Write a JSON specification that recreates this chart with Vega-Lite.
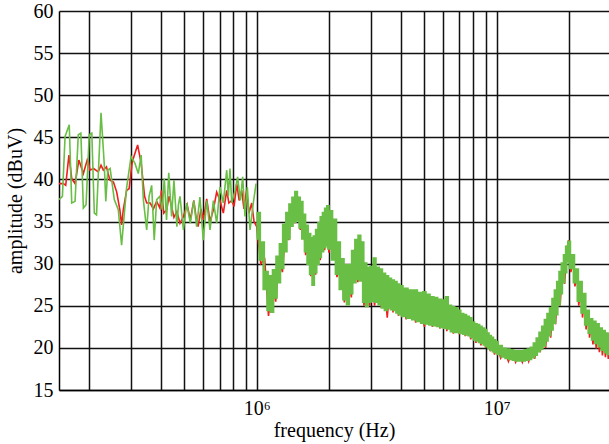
{
  "$schema": "https://vega.github.io/schema/vega-lite/v6.json",
  "autosize": {"type": "none"},
  "padding": {"left": 59, "top": 11, "right": 0, "bottom": 54},
  "width": 550,
  "height": 379,
  "background": "white",
  "config": {
    "view": {"stroke": null},
    "font": "Liberation Serif",
    "axis": {
      "labelFont": "Liberation Serif",
      "titleFont": "Liberation Serif",
      "labelFontSize": 20,
      "titleFontSize": 20,
      "labelColor": "#000",
      "titleColor": "#000",
      "titleFontWeight": "normal",
      "grid": true,
      "gridColor": "#111",
      "gridWidth": 1.5,
      "gridOpacity": 1,
      "ticks": false,
      "domainColor": "#000",
      "domainWidth": 1.5
    }
  },
  "datasets": {
    "red": [
      {"freq": 150000, "dBuV": 39.5}, {"freq": 156500, "dBuV": 39.5}, {"freq": 160000, "dBuV": 39.3},
      {"freq": 165000, "dBuV": 42.9}, {"freq": 169500, "dBuV": 40.1}, {"freq": 175000, "dBuV": 39.5},
      {"freq": 181500, "dBuV": 42.3}, {"freq": 189500, "dBuV": 40.7}, {"freq": 197500, "dBuV": 42.5},
      {"freq": 202000, "dBuV": 41.1}, {"freq": 209000, "dBuV": 41.3}, {"freq": 218500, "dBuV": 40.9},
      {"freq": 224500, "dBuV": 41.7}, {"freq": 229500, "dBuV": 41.1}, {"freq": 236500, "dBuV": 41.5},
      {"freq": 244500, "dBuV": 39.9}, {"freq": 253000, "dBuV": 39.7}, {"freq": 261000, "dBuV": 38.5},
      {"freq": 269000, "dBuV": 36.4}, {"freq": 273500, "dBuV": 34.6}, {"freq": 278000, "dBuV": 36.4},
      {"freq": 287000, "dBuV": 38.7}, {"freq": 294000, "dBuV": 38.9}, {"freq": 303000, "dBuV": 42.1},
      {"freq": 319000, "dBuV": 44.1}, {"freq": 330000, "dBuV": 41.9}, {"freq": 341000, "dBuV": 38.0},
      {"freq": 348000, "dBuV": 37.2}, {"freq": 360000, "dBuV": 37.2}, {"freq": 371000, "dBuV": 36.5},
      {"freq": 383000, "dBuV": 37.4}, {"freq": 395000, "dBuV": 36.6}, {"freq": 401000, "dBuV": 38.7},
      {"freq": 410000, "dBuV": 36.0}, {"freq": 422000, "dBuV": 36.4}, {"freq": 431000, "dBuV": 38.0},
      {"freq": 442000, "dBuV": 36.8}, {"freq": 452000, "dBuV": 35.5}, {"freq": 465000, "dBuV": 36.2},
      {"freq": 479000, "dBuV": 34.8}, {"freq": 495000, "dBuV": 35.6}, {"freq": 513000, "dBuV": 37.0},
      {"freq": 529000, "dBuV": 35.2}, {"freq": 547000, "dBuV": 37.5}, {"freq": 559000, "dBuV": 35.5},
      {"freq": 570000, "dBuV": 34.4}, {"freq": 586000, "dBuV": 36.5}, {"freq": 599000, "dBuV": 35.2},
      {"freq": 619000, "dBuV": 37.7}, {"freq": 639000, "dBuV": 35.0}, {"freq": 660000, "dBuV": 36.4},
      {"freq": 681000, "dBuV": 38.5}, {"freq": 703000, "dBuV": 37.5}, {"freq": 726000, "dBuV": 36.0},
      {"freq": 750000, "dBuV": 38.7}, {"freq": 766000, "dBuV": 37.2}, {"freq": 787000, "dBuV": 37.5},
      {"freq": 805000, "dBuV": 36.8}, {"freq": 826000, "dBuV": 39.5}, {"freq": 845000, "dBuV": 37.5},
      {"freq": 866000, "dBuV": 38.7}, {"freq": 885000, "dBuV": 36.5}, {"freq": 908000, "dBuV": 38.7},
      {"freq": 929000, "dBuV": 36.0}, {"freq": 953000, "dBuV": 37.2}, {"freq": 975000, "dBuV": 35.0},
      {"freq": 1000000, "dBuV": 34.4}, {"freq": 1040000, "dBuV": 30.0}, {"freq": 1080000, "dBuV": 30.5},
      {"freq": 1120000, "dBuV": 23.8}, {"freq": 1160000, "dBuV": 27.5}, {"freq": 1200000, "dBuV": 25.5},
      {"freq": 1240000, "dBuV": 30.5}, {"freq": 1280000, "dBuV": 29.0}, {"freq": 1320000, "dBuV": 34.0},
      {"freq": 1360000, "dBuV": 32.8}, {"freq": 1400000, "dBuV": 37.0}, {"freq": 1440000, "dBuV": 34.8},
      {"freq": 1480000, "dBuV": 38.0}, {"freq": 1520000, "dBuV": 34.0}, {"freq": 1560000, "dBuV": 35.8},
      {"freq": 1600000, "dBuV": 31.0}, {"freq": 1640000, "dBuV": 33.2}, {"freq": 1680000, "dBuV": 28.5},
      {"freq": 1720000, "dBuV": 32.5}, {"freq": 1760000, "dBuV": 28.7}, {"freq": 1800000, "dBuV": 33.6},
      {"freq": 1840000, "dBuV": 30.4}, {"freq": 1880000, "dBuV": 35.3}, {"freq": 1920000, "dBuV": 31.6},
      {"freq": 1960000, "dBuV": 36.3}, {"freq": 2000000, "dBuV": 31.3}, {"freq": 2080000, "dBuV": 35.0},
      {"freq": 2160000, "dBuV": 28.4}, {"freq": 2240000, "dBuV": 30.0}, {"freq": 2320000, "dBuV": 25.4},
      {"freq": 2400000, "dBuV": 29.3}, {"freq": 2480000, "dBuV": 26.0}, {"freq": 2560000, "dBuV": 31.7},
      {"freq": 2640000, "dBuV": 27.8}, {"freq": 2720000, "dBuV": 32.7}, {"freq": 2800000, "dBuV": 25.0},
      {"freq": 2880000, "dBuV": 29.2}, {"freq": 2960000, "dBuV": 25.0}, {"freq": 3000000, "dBuV": 29.0},
      {"freq": 3100000, "dBuV": 25.0}, {"freq": 3200000, "dBuV": 29.0}, {"freq": 3300000, "dBuV": 24.8},
      {"freq": 3400000, "dBuV": 28.4}, {"freq": 3500000, "dBuV": 23.6}, {"freq": 3600000, "dBuV": 27.8},
      {"freq": 3700000, "dBuV": 24.2}, {"freq": 3800000, "dBuV": 27.4}, {"freq": 3900000, "dBuV": 23.8},
      {"freq": 4000000, "dBuV": 27.0}, {"freq": 4200000, "dBuV": 23.4}, {"freq": 4400000, "dBuV": 26.5},
      {"freq": 4600000, "dBuV": 23.0}, {"freq": 4800000, "dBuV": 26.2}, {"freq": 5000000, "dBuV": 22.5},
      {"freq": 5200000, "dBuV": 26.0}, {"freq": 5400000, "dBuV": 22.5}, {"freq": 5600000, "dBuV": 25.6},
      {"freq": 5800000, "dBuV": 22.3}, {"freq": 6000000, "dBuV": 25.3}, {"freq": 6200000, "dBuV": 22.0},
      {"freq": 6400000, "dBuV": 24.8}, {"freq": 6600000, "dBuV": 21.7}, {"freq": 6800000, "dBuV": 24.4},
      {"freq": 7000000, "dBuV": 21.6}, {"freq": 7200000, "dBuV": 23.8}, {"freq": 7400000, "dBuV": 21.4},
      {"freq": 7600000, "dBuV": 23.4}, {"freq": 7800000, "dBuV": 21.0}, {"freq": 8000000, "dBuV": 22.8},
      {"freq": 8200000, "dBuV": 20.6}, {"freq": 8400000, "dBuV": 22.4}, {"freq": 8600000, "dBuV": 20.3},
      {"freq": 8800000, "dBuV": 22.0}, {"freq": 9000000, "dBuV": 20.0}, {"freq": 9200000, "dBuV": 21.5},
      {"freq": 9400000, "dBuV": 19.6}, {"freq": 9600000, "dBuV": 21.0}, {"freq": 9800000, "dBuV": 19.2},
      {"freq": 10000000, "dBuV": 20.5}, {"freq": 10400000, "dBuV": 18.8}, {"freq": 10800000, "dBuV": 19.7},
      {"freq": 11200000, "dBuV": 18.4}, {"freq": 11600000, "dBuV": 19.5}, {"freq": 12000000, "dBuV": 18.3},
      {"freq": 12400000, "dBuV": 19.4}, {"freq": 12800000, "dBuV": 18.3}, {"freq": 13200000, "dBuV": 19.5},
      {"freq": 13600000, "dBuV": 18.4}, {"freq": 14000000, "dBuV": 19.8}, {"freq": 14400000, "dBuV": 18.7},
      {"freq": 14800000, "dBuV": 20.8}, {"freq": 15200000, "dBuV": 19.5}, {"freq": 15600000, "dBuV": 22.2},
      {"freq": 16000000, "dBuV": 20.0}, {"freq": 16400000, "dBuV": 23.8}, {"freq": 16800000, "dBuV": 21.2},
      {"freq": 17200000, "dBuV": 25.5}, {"freq": 17600000, "dBuV": 22.8}, {"freq": 18000000, "dBuV": 27.5},
      {"freq": 18400000, "dBuV": 25.0}, {"freq": 18800000, "dBuV": 29.8}, {"freq": 19200000, "dBuV": 27.6},
      {"freq": 19600000, "dBuV": 31.8}, {"freq": 20000000, "dBuV": 32.8}, {"freq": 20400000, "dBuV": 29.0},
      {"freq": 20800000, "dBuV": 30.6}, {"freq": 21200000, "dBuV": 27.3}, {"freq": 21600000, "dBuV": 28.8},
      {"freq": 22000000, "dBuV": 25.0}, {"freq": 22400000, "dBuV": 27.2}, {"freq": 22800000, "dBuV": 23.6},
      {"freq": 23200000, "dBuV": 25.8}, {"freq": 23600000, "dBuV": 22.2}, {"freq": 24000000, "dBuV": 24.0},
      {"freq": 24400000, "dBuV": 21.2}, {"freq": 24800000, "dBuV": 23.0}, {"freq": 25200000, "dBuV": 20.4},
      {"freq": 25600000, "dBuV": 22.6}, {"freq": 26000000, "dBuV": 19.9}, {"freq": 26400000, "dBuV": 22.3},
      {"freq": 26800000, "dBuV": 19.5}, {"freq": 27200000, "dBuV": 21.8}, {"freq": 27600000, "dBuV": 19.1},
      {"freq": 28000000, "dBuV": 21.5}, {"freq": 28400000, "dBuV": 18.9}, {"freq": 28800000, "dBuV": 21.2},
      {"freq": 29200000, "dBuV": 18.7}, {"freq": 29600000, "dBuV": 21.0}, {"freq": 30000000, "dBuV": 18.6}
    ],
    "greenLow": [
      {"freq": 150000, "dBuV": 37.6}, {"freq": 155000, "dBuV": 38.0}, {"freq": 159000, "dBuV": 45.1},
      {"freq": 165500, "dBuV": 46.5}, {"freq": 169500, "dBuV": 37.2}, {"freq": 175000, "dBuV": 37.4},
      {"freq": 180500, "dBuV": 45.3}, {"freq": 185000, "dBuV": 45.5}, {"freq": 189500, "dBuV": 36.6},
      {"freq": 194500, "dBuV": 37.0}, {"freq": 200500, "dBuV": 45.3}, {"freq": 205500, "dBuV": 45.5},
      {"freq": 210500, "dBuV": 36.0}, {"freq": 215000, "dBuV": 35.8}, {"freq": 224500, "dBuV": 47.9},
      {"freq": 231500, "dBuV": 41.9}, {"freq": 235000, "dBuV": 37.4}, {"freq": 239500, "dBuV": 41.1},
      {"freq": 245000, "dBuV": 41.3}, {"freq": 255000, "dBuV": 37.6}, {"freq": 265000, "dBuV": 36.4},
      {"freq": 273500, "dBuV": 32.2}, {"freq": 282500, "dBuV": 36.8}, {"freq": 287000, "dBuV": 39.0},
      {"freq": 299500, "dBuV": 42.7}, {"freq": 311000, "dBuV": 41.9}, {"freq": 321000, "dBuV": 40.7},
      {"freq": 330000, "dBuV": 42.9}, {"freq": 337000, "dBuV": 37.6}, {"freq": 348000, "dBuV": 34.0},
      {"freq": 356000, "dBuV": 38.0}, {"freq": 365000, "dBuV": 39.3}, {"freq": 374000, "dBuV": 32.8},
      {"freq": 383000, "dBuV": 37.6}, {"freq": 395000, "dBuV": 38.0}, {"freq": 404000, "dBuV": 36.4},
      {"freq": 412000, "dBuV": 40.1}, {"freq": 421000, "dBuV": 35.2}, {"freq": 430000, "dBuV": 40.8},
      {"freq": 442000, "dBuV": 35.6}, {"freq": 452000, "dBuV": 39.9}, {"freq": 465000, "dBuV": 34.4},
      {"freq": 472000, "dBuV": 37.0}, {"freq": 479000, "dBuV": 38.0}, {"freq": 495000, "dBuV": 34.0},
      {"freq": 511000, "dBuV": 37.2}, {"freq": 529000, "dBuV": 34.8}, {"freq": 547000, "dBuV": 37.5},
      {"freq": 562000, "dBuV": 34.4}, {"freq": 580000, "dBuV": 37.9}, {"freq": 599000, "dBuV": 32.8},
      {"freq": 619000, "dBuV": 37.5}, {"freq": 639000, "dBuV": 34.0}, {"freq": 660000, "dBuV": 37.5},
      {"freq": 681000, "dBuV": 34.8}, {"freq": 703000, "dBuV": 39.1}, {"freq": 726000, "dBuV": 37.2},
      {"freq": 750000, "dBuV": 41.1}, {"freq": 762000, "dBuV": 38.0}, {"freq": 774000, "dBuV": 41.3},
      {"freq": 787000, "dBuV": 37.2}, {"freq": 813000, "dBuV": 38.7}, {"freq": 833000, "dBuV": 40.3},
      {"freq": 855000, "dBuV": 37.5}, {"freq": 874000, "dBuV": 40.3}, {"freq": 894000, "dBuV": 35.6},
      {"freq": 914000, "dBuV": 39.1}, {"freq": 938000, "dBuV": 34.0}, {"freq": 968000, "dBuV": 37.2},
      {"freq": 994000, "dBuV": 39.5}
    ],
    "greenHigh": [
      {"freq": 1000000, "dBuV": 33.0}, {"freq": 1020000, "dBuV": 36.0}, {"freq": 1040000, "dBuV": 30.5},
      {"freq": 1060000, "dBuV": 32.5}, {"freq": 1080000, "dBuV": 27.0}, {"freq": 1100000, "dBuV": 29.0},
      {"freq": 1120000, "dBuV": 24.5}, {"freq": 1140000, "dBuV": 28.5}, {"freq": 1160000, "dBuV": 24.3},
      {"freq": 1180000, "dBuV": 29.2}, {"freq": 1200000, "dBuV": 26.0}, {"freq": 1220000, "dBuV": 30.8},
      {"freq": 1240000, "dBuV": 27.8}, {"freq": 1260000, "dBuV": 32.3}, {"freq": 1280000, "dBuV": 29.5},
      {"freq": 1300000, "dBuV": 34.6}, {"freq": 1320000, "dBuV": 31.5}, {"freq": 1340000, "dBuV": 36.0},
      {"freq": 1360000, "dBuV": 33.0}, {"freq": 1380000, "dBuV": 37.0}, {"freq": 1400000, "dBuV": 34.5},
      {"freq": 1420000, "dBuV": 37.8}, {"freq": 1440000, "dBuV": 35.0}, {"freq": 1460000, "dBuV": 38.5},
      {"freq": 1480000, "dBuV": 35.2}, {"freq": 1500000, "dBuV": 37.8}, {"freq": 1520000, "dBuV": 34.3},
      {"freq": 1540000, "dBuV": 37.3}, {"freq": 1560000, "dBuV": 33.0}, {"freq": 1580000, "dBuV": 35.8},
      {"freq": 1600000, "dBuV": 31.5}, {"freq": 1620000, "dBuV": 34.5}, {"freq": 1640000, "dBuV": 30.0},
      {"freq": 1660000, "dBuV": 33.5}, {"freq": 1680000, "dBuV": 28.8}, {"freq": 1700000, "dBuV": 33.0},
      {"freq": 1720000, "dBuV": 27.5}, {"freq": 1740000, "dBuV": 33.2}, {"freq": 1760000, "dBuV": 29.0},
      {"freq": 1780000, "dBuV": 34.0}, {"freq": 1800000, "dBuV": 30.0}, {"freq": 1820000, "dBuV": 34.8},
      {"freq": 1840000, "dBuV": 30.8}, {"freq": 1860000, "dBuV": 35.5}, {"freq": 1880000, "dBuV": 31.5},
      {"freq": 1900000, "dBuV": 36.0}, {"freq": 1920000, "dBuV": 32.0}, {"freq": 1940000, "dBuV": 36.5},
      {"freq": 1960000, "dBuV": 32.2}, {"freq": 1980000, "dBuV": 36.8}, {"freq": 2000000, "dBuV": 31.8},
      {"freq": 2040000, "dBuV": 36.2}, {"freq": 2080000, "dBuV": 30.5}, {"freq": 2120000, "dBuV": 35.2},
      {"freq": 2160000, "dBuV": 28.8}, {"freq": 2200000, "dBuV": 32.5}, {"freq": 2240000, "dBuV": 27.0},
      {"freq": 2280000, "dBuV": 30.5}, {"freq": 2320000, "dBuV": 25.8}, {"freq": 2360000, "dBuV": 29.8},
      {"freq": 2400000, "dBuV": 25.2}, {"freq": 2440000, "dBuV": 29.8}, {"freq": 2480000, "dBuV": 26.5},
      {"freq": 2520000, "dBuV": 31.5}, {"freq": 2560000, "dBuV": 27.8}, {"freq": 2600000, "dBuV": 32.8},
      {"freq": 2640000, "dBuV": 28.2}, {"freq": 2680000, "dBuV": 33.3}, {"freq": 2720000, "dBuV": 28.0},
      {"freq": 2760000, "dBuV": 32.5}, {"freq": 2800000, "dBuV": 25.5}, {"freq": 2840000, "dBuV": 30.0},
      {"freq": 2880000, "dBuV": 25.0}, {"freq": 2920000, "dBuV": 29.5}, {"freq": 2960000, "dBuV": 25.5},
      {"freq": 3000000, "dBuV": 29.6}, {"freq": 3050000, "dBuV": 25.6}, {"freq": 3100000, "dBuV": 30.6},
      {"freq": 3150000, "dBuV": 25.5}, {"freq": 3200000, "dBuV": 29.5}, {"freq": 3250000, "dBuV": 25.2},
      {"freq": 3300000, "dBuV": 29.3}, {"freq": 3350000, "dBuV": 24.8}, {"freq": 3400000, "dBuV": 28.8},
      {"freq": 3450000, "dBuV": 24.5}, {"freq": 3500000, "dBuV": 28.5}, {"freq": 3550000, "dBuV": 24.8},
      {"freq": 3600000, "dBuV": 28.2}, {"freq": 3650000, "dBuV": 24.6}, {"freq": 3700000, "dBuV": 28.0},
      {"freq": 3750000, "dBuV": 24.5}, {"freq": 3800000, "dBuV": 27.8}, {"freq": 3850000, "dBuV": 24.2},
      {"freq": 3900000, "dBuV": 27.5}, {"freq": 3950000, "dBuV": 24.0}, {"freq": 4000000, "dBuV": 27.3},
      {"freq": 4100000, "dBuV": 23.8}, {"freq": 4200000, "dBuV": 27.0}, {"freq": 4300000, "dBuV": 23.6},
      {"freq": 4400000, "dBuV": 26.8}, {"freq": 4500000, "dBuV": 23.4}, {"freq": 4600000, "dBuV": 26.8},
      {"freq": 4700000, "dBuV": 23.2}, {"freq": 4800000, "dBuV": 26.5}, {"freq": 4900000, "dBuV": 23.0},
      {"freq": 5000000, "dBuV": 26.6}, {"freq": 5100000, "dBuV": 22.9}, {"freq": 5200000, "dBuV": 26.3},
      {"freq": 5300000, "dBuV": 22.8}, {"freq": 5400000, "dBuV": 26.0}, {"freq": 5500000, "dBuV": 22.7},
      {"freq": 5600000, "dBuV": 25.9}, {"freq": 5700000, "dBuV": 22.6}, {"freq": 5800000, "dBuV": 25.7},
      {"freq": 5900000, "dBuV": 22.5}, {"freq": 6000000, "dBuV": 25.6}, {"freq": 6100000, "dBuV": 22.4},
      {"freq": 6200000, "dBuV": 26.0}, {"freq": 6300000, "dBuV": 22.3}, {"freq": 6400000, "dBuV": 25.0},
      {"freq": 6500000, "dBuV": 22.0}, {"freq": 6600000, "dBuV": 24.8}, {"freq": 6700000, "dBuV": 21.9},
      {"freq": 6800000, "dBuV": 24.7}, {"freq": 6900000, "dBuV": 21.9}, {"freq": 7000000, "dBuV": 24.4},
      {"freq": 7100000, "dBuV": 21.8}, {"freq": 7200000, "dBuV": 24.0}, {"freq": 7300000, "dBuV": 21.7},
      {"freq": 7400000, "dBuV": 23.9}, {"freq": 7500000, "dBuV": 21.6}, {"freq": 7600000, "dBuV": 23.7},
      {"freq": 7700000, "dBuV": 21.5}, {"freq": 7800000, "dBuV": 23.5}, {"freq": 7900000, "dBuV": 21.3},
      {"freq": 8000000, "dBuV": 23.0}, {"freq": 8100000, "dBuV": 21.0}, {"freq": 8200000, "dBuV": 22.8},
      {"freq": 8300000, "dBuV": 20.9}, {"freq": 8400000, "dBuV": 22.7}, {"freq": 8500000, "dBuV": 20.7},
      {"freq": 8600000, "dBuV": 22.5}, {"freq": 8700000, "dBuV": 20.6}, {"freq": 8800000, "dBuV": 22.3},
      {"freq": 8900000, "dBuV": 20.4}, {"freq": 9000000, "dBuV": 22.1}, {"freq": 9100000, "dBuV": 20.2},
      {"freq": 9200000, "dBuV": 21.7}, {"freq": 9300000, "dBuV": 20.0}, {"freq": 9400000, "dBuV": 21.4},
      {"freq": 9500000, "dBuV": 19.8}, {"freq": 9600000, "dBuV": 21.2}, {"freq": 9700000, "dBuV": 19.6},
      {"freq": 9800000, "dBuV": 20.9}, {"freq": 9900000, "dBuV": 19.5}, {"freq": 10000000, "dBuV": 20.7},
      {"freq": 10200000, "dBuV": 19.3}, {"freq": 10400000, "dBuV": 20.2}, {"freq": 10600000, "dBuV": 19.0},
      {"freq": 10800000, "dBuV": 19.9}, {"freq": 11000000, "dBuV": 18.8}, {"freq": 11200000, "dBuV": 19.8},
      {"freq": 11400000, "dBuV": 18.7}, {"freq": 11600000, "dBuV": 19.7}, {"freq": 11800000, "dBuV": 18.6},
      {"freq": 12000000, "dBuV": 19.6}, {"freq": 12200000, "dBuV": 18.5}, {"freq": 12400000, "dBuV": 19.6},
      {"freq": 12600000, "dBuV": 18.5}, {"freq": 12800000, "dBuV": 19.6}, {"freq": 13000000, "dBuV": 18.5},
      {"freq": 13200000, "dBuV": 19.7}, {"freq": 13400000, "dBuV": 18.6}, {"freq": 13600000, "dBuV": 19.8},
      {"freq": 13800000, "dBuV": 18.7}, {"freq": 14000000, "dBuV": 20.0}, {"freq": 14200000, "dBuV": 18.9},
      {"freq": 14400000, "dBuV": 20.5}, {"freq": 14600000, "dBuV": 19.2}, {"freq": 14800000, "dBuV": 21.1},
      {"freq": 15000000, "dBuV": 19.6}, {"freq": 15200000, "dBuV": 21.8}, {"freq": 15400000, "dBuV": 19.9},
      {"freq": 15600000, "dBuV": 22.5}, {"freq": 15800000, "dBuV": 20.3}, {"freq": 16000000, "dBuV": 23.3},
      {"freq": 16200000, "dBuV": 20.9}, {"freq": 16400000, "dBuV": 24.0}, {"freq": 16600000, "dBuV": 21.5},
      {"freq": 16800000, "dBuV": 24.7}, {"freq": 17000000, "dBuV": 22.2}, {"freq": 17200000, "dBuV": 25.8},
      {"freq": 17400000, "dBuV": 23.0}, {"freq": 17600000, "dBuV": 26.8}, {"freq": 17800000, "dBuV": 24.0},
      {"freq": 18000000, "dBuV": 27.8}, {"freq": 18200000, "dBuV": 25.2}, {"freq": 18400000, "dBuV": 29.0},
      {"freq": 18600000, "dBuV": 26.5}, {"freq": 18800000, "dBuV": 30.0}, {"freq": 19000000, "dBuV": 27.8},
      {"freq": 19200000, "dBuV": 31.0}, {"freq": 19400000, "dBuV": 29.0}, {"freq": 19600000, "dBuV": 32.0},
      {"freq": 19800000, "dBuV": 30.3}, {"freq": 20000000, "dBuV": 32.6}, {"freq": 20400000, "dBuV": 29.5},
      {"freq": 20800000, "dBuV": 31.0}, {"freq": 21200000, "dBuV": 27.8}, {"freq": 21600000, "dBuV": 29.3},
      {"freq": 22000000, "dBuV": 25.6}, {"freq": 22400000, "dBuV": 27.8}, {"freq": 22800000, "dBuV": 24.2},
      {"freq": 23200000, "dBuV": 26.4}, {"freq": 23600000, "dBuV": 22.8}, {"freq": 24000000, "dBuV": 24.4},
      {"freq": 24400000, "dBuV": 21.8}, {"freq": 24800000, "dBuV": 23.4}, {"freq": 25200000, "dBuV": 21.0},
      {"freq": 25600000, "dBuV": 23.1}, {"freq": 26000000, "dBuV": 20.6}, {"freq": 26400000, "dBuV": 22.8},
      {"freq": 26800000, "dBuV": 20.2}, {"freq": 27200000, "dBuV": 22.3}, {"freq": 27600000, "dBuV": 19.8},
      {"freq": 28000000, "dBuV": 22.0}, {"freq": 28400000, "dBuV": 19.5}, {"freq": 28800000, "dBuV": 21.7},
      {"freq": 29200000, "dBuV": 19.3}, {"freq": 29600000, "dBuV": 21.5}, {"freq": 30000000, "dBuV": 19.2}
    ]
  },
  "encoding": {
    "x": {
      "field": "freq",
      "type": "quantitative",
      "scale": {"type": "log", "domain": [150000, 29400000], "nice": false},
      "axis": {
        "title": "frequency (Hz)",
        "values": [200000, 300000, 400000, 500000, 600000, 700000, 800000, 900000, 1000000, 2000000, 3000000, 4000000, 5000000, 6000000, 7000000, 8000000, 9000000, 10000000, 20000000],
        "labelExpr": "datum.value == 1000000 ? '10⁶' : (datum.value == 10000000 ? '10⁷' : '')",
        "labelOverlap": false,
        "labelFlush": false,
        "labelPadding": 8,
        "titlePadding": 2
      }
    },
    "y": {
      "field": "dBuV",
      "type": "quantitative",
      "scale": {"domain": [15, 60], "nice": false, "zero": false},
      "axis": {
        "title": "amplitude (dBuV)",
        "values": [15, 20, 25, 30, 35, 40, 45, 50, 55, 60],
        "labelPadding": 6,
        "titlePadding": 8
      }
    }
  },
  "layer": [
    {
      "data": {"name": "red"},
      "mark": {"type": "line", "color": "#f01e1e", "strokeWidth": 1.6, "clip": true}
    },
    {
      "data": {"name": "greenLow"},
      "mark": {"type": "line", "color": "#69be45", "strokeWidth": 1.6, "clip": true}
    },
    {
      "data": {"name": "greenHigh"},
      "mark": {"type": "line", "color": "#69be45", "strokeWidth": 2.7, "interpolate": "step", "clip": true}
    }
  ]
}
